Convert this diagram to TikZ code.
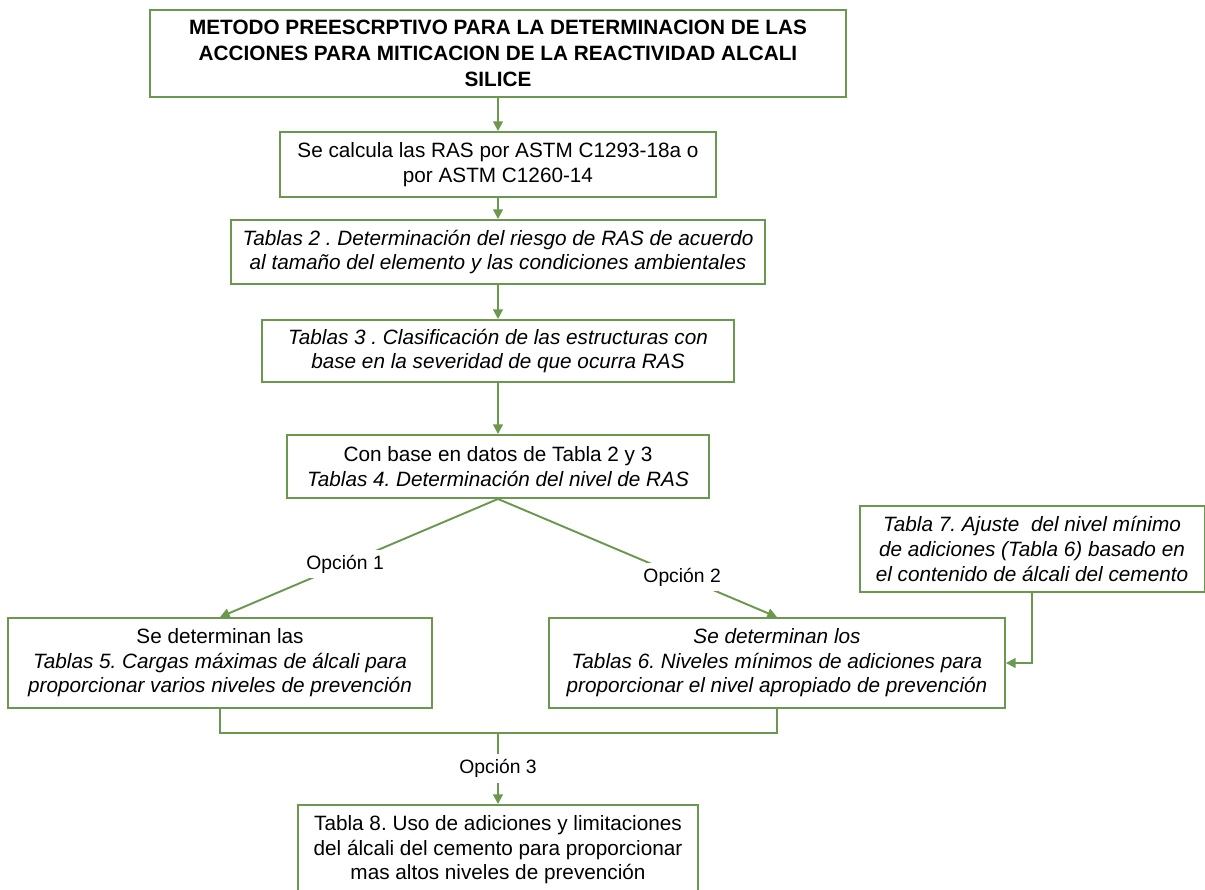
\documentclass[tikz,border=0pt]{standalone}
\usepackage{fontspec}
\setmainfont{Liberation Sans}
\usetikzlibrary{positioning,calc}
\usetikzlibrary{arrows.meta}
\definecolor{boxgreen}{RGB}{106,152,79}
\tikzset{>={Triangle[length=5.5pt,width=5.5pt]}}
\frenchspacing

\begin{document}
\begin{tikzpicture}[x=0.02cm,y=-0.02cm]
    \tikzstyle{every node}=[line width=1.1pt]
    \tikzstyle{pbox} = [draw=boxgreen, rectangle, align=center, inner sep=2pt,
                        font=\fontsize{11.8}{14}\selectfont]
    \tikzstyle{olabel} = [fill=white, inner sep=3pt, font=\fontsize{11}{13}\selectfont]
    \tikzstyle{link} = [draw=boxgreen, line width=1.1pt]

    \useasboundingbox (0,0) rectangle (1205,890);

    % main column
    \node[pbox, minimum width=13.92cm, minimum height=1.74cm,
          font=\bfseries\fontsize{11.8}{15}\selectfont] (title) at (498,53.5)
        {METODO PREESCRPTIVO PARA LA DETERMINACION DE LAS\\
         ACCIONES PARA MITICACION DE LA REACTIVIDAD ALCALI\\
         SILICE};
    \node[pbox, minimum width=8.74cm, minimum height=1.3cm] (calc) at (498,164.5)
        {Se calcula las RAS por ASTM C1293-18a o\\ por ASTM C1260-14};
    \node[pbox, minimum width=10.7cm, minimum height=1.28cm] (tab2) at (498,252)
        {\itshape Tablas 2 . Determinación del riesgo de RAS de acuerdo\\
         \itshape al tamaño del elemento y las condiciones ambientales};
    \node[pbox, minimum width=9.44cm, minimum height=1.24cm] (tab3) at (498,351)
        {\itshape Tablas 3 . Clasificación de las estructuras con\\
         \itshape base en la severidad de que ocurra RAS};
    \node[pbox, minimum width=8.44cm, minimum height=1.26cm] (tab4) at (498,466.5)
        {Con base en datos de Tabla 2 y 3\\
         \itshape Tablas 4. Determinación del nivel de RAS};

    % options
    \node[pbox, minimum width=6.9cm, minimum height=1.72cm] (tab7) at (1032,549)
        {\itshape Tabla 7. Ajuste \ del nivel mínimo\\
         \itshape de adiciones (Tabla 6) basado en\\
         \itshape el contenido de álcali del cemento};
    \node[pbox, minimum width=8.48cm, minimum height=1.8cm] (tab5) at (220,663)
        {Se determinan las\\
         \itshape Tablas 5. Cargas máximas de álcali para\\
         \itshape proporcionar varios niveles de prevención};
    \node[pbox, minimum width=9.12cm, minimum height=1.8cm] (tab6) at (777,663)
        {\itshape Se determinan los\\
         \itshape Tablas 6. Niveles mínimos de adiciones para\\
         \itshape proporcionar el nivel apropiado de prevención};
    \node[pbox, minimum width=8.02cm, minimum height=1.8cm] (tab8) at (498,850)
        {Tabla 8. Uso de adiciones y limitaciones\\
         del álcali del cemento para proporcionar\\
         mas altos niveles de prevención};
    \coordinate (join) at (498,733);

    \draw[link,->] (title) -- (calc);
    \draw[link,->] (calc) -- (tab2);
    \draw[link,->] (tab2) -- (tab3);
    \draw[link,->] (tab3) -- (tab4);
    \draw[link,->] (tab4.south) -- node[olabel, pos=0.55] {Opción 1} (tab5.north);
    \draw[link,->] (tab4.south) -- node[olabel, pos=0.66] {Opción 2} (tab6.north);
    \draw[link,->] (tab7.south) |- (tab6.east);
    \draw[link] (tab5.south) |- (join) -| (tab6.south);
    \draw[link,->] (join) -- node[olabel] {Opción 3} (tab8.north);

  \end{tikzpicture}
\end{document}
